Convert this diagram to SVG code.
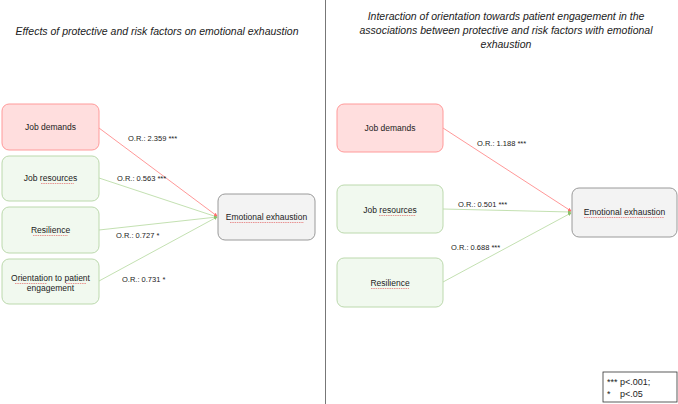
<svg xmlns="http://www.w3.org/2000/svg" width="678" height="404" viewBox="0 0 678 404">
<style>
text{font-family:"Liberation Sans",Arial,sans-serif;fill:#222}
.title{font-size:10.5px;font-style:italic;text-anchor:middle}
.nt{font-size:8.5px;text-anchor:middle}
.lbl{font-size:7.5px}
.red{fill:#ffdede;stroke:#ff9a9a;stroke-width:1}
.grn{fill:#f1f9ef;stroke:#bcd9ad;stroke-width:1}
.gry{fill:#f3f3f3;stroke:#9a9a9a;stroke-width:1}
.er{stroke:#ff8c8c;stroke-width:0.9;fill:none}
.eg{stroke:#bcdca8;stroke-width:0.9;fill:none}
.sq{stroke:#e05050;stroke-width:0.6;fill:none;stroke-dasharray:1.5 0.8}
.leg{font-size:9px}
</style>
<defs>
<marker id="ar" viewBox="0 0 6 6" refX="5" refY="3" markerWidth="4" markerHeight="4" orient="auto"><path d="M0,0 L6,3 L0,6 z" fill="#ff6b6b"/></marker>
<marker id="ag" viewBox="0 0 6 6" refX="5" refY="3" markerWidth="4" markerHeight="4" orient="auto"><path d="M0,0 L6,3 L0,6 z" fill="#8cc06a"/></marker>
</defs>
<rect width="678" height="404" fill="#fff"/>
<line x1="325.5" y1="0" x2="325.5" y2="404" stroke="#777" stroke-width="1"/>
<text class="title" x="157" y="35">Effects of protective and risk factors on emotional exhaustion</text>
<text class="title" x="506" y="20">Interaction of orientation towards patient engagement in the</text>
<text class="title" x="506" y="34">associations between protective and risk factors with emotional</text>
<text class="title" x="506" y="48">exhaustion</text>
<g id="connectors">
<line class="eg" x1="99" y1="178" x2="217" y2="217" marker-end="url(#ag)"/>
<line class="eg" x1="99" y1="230" x2="217" y2="217" marker-end="url(#ag)"/>
<line class="eg" x1="99" y1="281" x2="217" y2="217" marker-end="url(#ag)"/>
<line class="er" x1="99" y1="128" x2="217" y2="216" marker-end="url(#ar)"/>
<line class="eg" x1="443" y1="209" x2="571" y2="212" marker-end="url(#ag)"/>
<line class="eg" x1="443" y1="282" x2="571" y2="213" marker-end="url(#ag)"/>
<line class="er" x1="443" y1="128" x2="571" y2="211" marker-end="url(#ar)"/>
<text class="lbl" x="128" y="141">O.R.: 2.359 ***</text>
<text class="lbl" x="117" y="181">O.R.: 0.563 ***</text>
<text class="lbl" x="116" y="238">O.R.: 0.727 *</text>
<text class="lbl" x="122" y="282">O.R.: 0.731 *</text>
<text class="lbl" x="477" y="146">O.R.: 1.188 ***</text>
<text class="lbl" x="458" y="207">O.R.: 0.501 ***</text>
<text class="lbl" x="451" y="250">O.R.: 0.688 ***</text>
</g>
<g id="l-demands"><rect class="red" x="2" y="104" width="97" height="46" rx="7"/><text class="nt" x="50.5" y="130">Job demands</text></g>
<g id="l-resources"><rect class="grn" x="2" y="156" width="97" height="45" rx="7"/><text class="nt" x="50.5" y="181">Job resources</text><path class="sq" d="M41,183.5 H74"/></g>
<g id="l-resilience"><rect class="grn" x="2" y="207" width="97" height="46" rx="7"/><text class="nt" x="50.5" y="233">Resilience</text><path class="sq" d="M33,235.5 H68"/></g>
<g id="l-orientation"><rect class="grn" x="2" y="259" width="97" height="45" rx="7"/><text class="nt" x="50.5" y="281">Orientation to patient</text><text class="nt" x="50.5" y="291">engagement</text><path class="sq" d="M15,283.5 H47 M66,283.5 H86"/></g>
<g id="l-exhaustion"><rect class="gry" x="218" y="194" width="97" height="46" rx="7"/><text class="nt" x="266.5" y="220">Emotional exhaustion</text><path class="sq" d="M230,222.5 H304"/></g>
<g id="r-demands"><rect class="red" x="337" y="104" width="106" height="48" rx="7"/><text class="nt" x="390" y="131">Job demands</text></g>
<g id="r-resources"><rect class="grn" x="337" y="185" width="106" height="48" rx="7"/><text class="nt" x="390" y="213">Job resources</text><path class="sq" d="M379,215.5 H416"/></g>
<g id="r-resilience"><rect class="grn" x="337" y="258" width="106" height="49" rx="7"/><text class="nt" x="390" y="286">Resilience</text><path class="sq" d="M371,288.5 H409"/></g>
<g id="r-exhaustion"><rect class="gry" x="572" y="188" width="105" height="49" rx="7"/><text class="nt" x="624.5" y="215">Emotional exhaustion</text><path class="sq" d="M584,217.5 H664"/></g>
<g id="legend"><rect x="603" y="372" width="74" height="30" fill="#fff" stroke="#333" stroke-width="0.8"/><text class="leg" x="607" y="385">*** p&lt;.001;</text><text class="leg" x="607" y="397">*</text><text class="leg" x="620" y="397">p&lt;.05</text></g>
</svg>
